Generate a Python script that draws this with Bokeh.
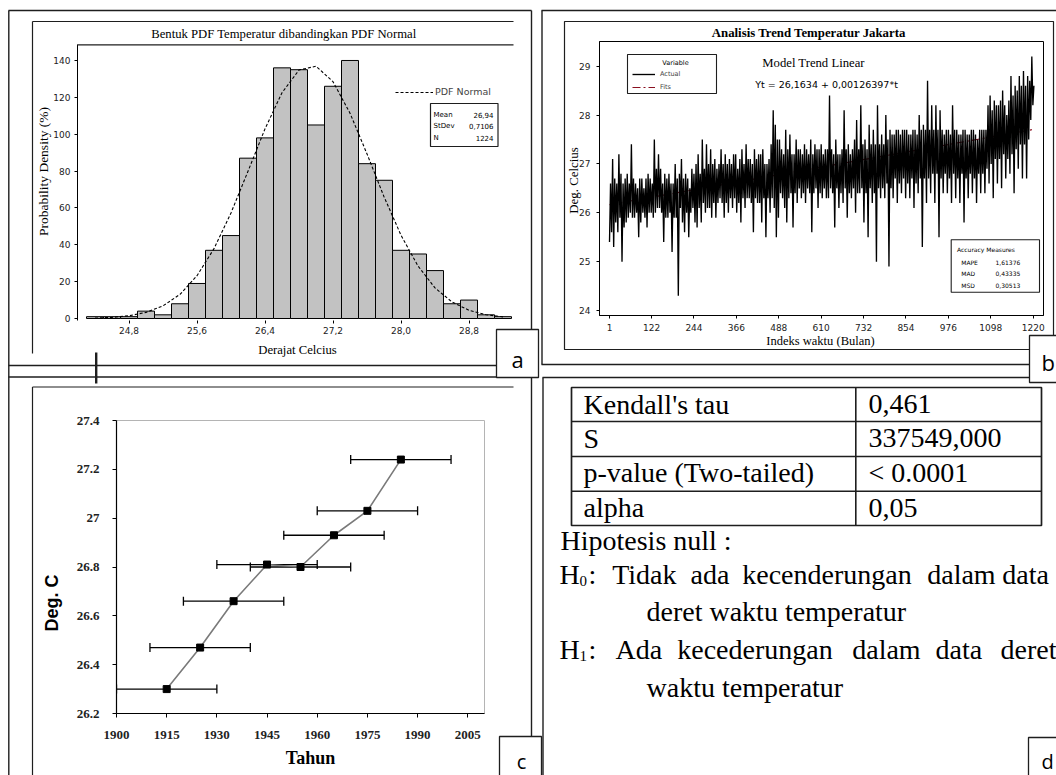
import math
from bokeh.plotting import figure
from bokeh.models import (BoxAnnotation, Label, FixedTicker, Range1d, ColumnDataSource,
                          Whisker, TeeHead, Legend, LegendItem)
from bokeh.layouts import row, column
from bokeh.embed import file_html
from bokeh.resources import INLINE

# ---------------- data ----------------
# (a) histogram of monthly temperature
hist_centers = [24.4, 24.6, 24.8, 25.0, 25.2, 25.4, 25.6, 25.8, 26.0, 26.2, 26.4, 26.6,
                26.8, 27.0, 27.2, 27.4, 27.6, 27.8, 28.0, 28.2, 28.4, 28.6, 28.8, 29.0, 29.2]
hist_counts = [1, 1, 1, 4, 2, 8, 19, 37, 45, 87, 98, 136, 135, 105, 126, 140, 84, 75,
               37, 35, 26, 8, 10, 2, 1]
pdf_x = [24.4, 24.6, 24.8, 25.0, 25.2, 25.4, 25.6, 25.8, 26.0, 26.2, 26.4, 26.6,
         26.8, 27.0, 27.2, 27.4, 27.6, 27.8, 28.0, 28.2, 28.4, 28.6, 28.8, 29.0, 29.2]
pdf_y = [0.23, 0.61, 1.47, 3.31, 6.86, 13.1, 23.2, 37.9, 57.3, 79.9, 102.9, 122.5,
         134.8, 136.9, 128.5, 111.4, 89.3, 66.1, 45.2, 28.5, 16.6, 8.97, 4.47, 2.06, 0.87]
hist_ticks = [24.8, 25.6, 26.4, 27.2, 28.0, 28.8]
hist_tick_labels = ["24,8", "25,6", "26,4", "27,2", "28,0", "28,8"]
hist_y_ticks = [0, 20, 40, 60, 80, 100, 120, 140]
stats_names = ["Mean", "StDev", "N"]
stats_values = ["26,94", "0,7106", "1224"]

# (b) monthly series: lowest / highest monthly value read in each half-year window
halfyear_start = list(range(1, 1225, 6))
halfyear_min = [
    25.4, 25.6, 25.3, 25.8, 25.6, 25.9, 25.0, 25.7, 25.8, 25.9, 26.0, 25.9,
    25.9, 26.0, 25.5, 25.8, 26.0, 25.9, 25.7, 26.0, 26.0, 25.9, 26.0, 26.1,
    26.1, 26.0, 25.4, 25.9, 25.9, 26.0, 25.2, 25.9, 25.9, 24.3, 26.1, 25.8,
    25.6, 26.0, 25.5, 26.0, 26.1, 25.8, 25.7, 26.1, 25.8, 26.2, 26.0, 26.1,
    26.1, 25.9, 26.2, 25.9, 26.2, 26.3, 26.2, 25.9, 26.2, 26.0, 26.3, 26.1,
    26.3, 26.0, 26.2, 25.8, 26.3, 26.1, 26.3, 26.3, 26.2, 25.6, 26.3, 26.2,
    26.2, 25.8, 26.3, 25.5, 26.3, 26.0, 26.3, 26.1, 25.5, 25.9, 26.4, 26.3,
    26.1, 25.8, 26.3, 26.4, 25.7, 26.4, 26.2, 26.5, 26.3, 26.4, 26.2, 26.5,
    26.4, 25.6, 26.4, 26.5, 26.1, 26.4, 26.3, 26.5, 26.3, 26.3, 26.5, 26.4,
    25.7, 26.5, 26.1, 26.4, 26.2, 26.5, 25.9, 26.4, 26.3, 26.5, 26.0, 26.4,
    26.4, 26.5, 25.8, 26.4, 25.5, 26.5, 26.2, 26.4, 25.0, 26.5, 26.3, 26.5,
    26.3, 26.6, 24.9, 26.5, 26.3, 26.7, 26.2, 26.6, 26.4, 26.7, 26.3, 26.6,
    26.3, 26.7, 26.1, 26.6, 26.4, 26.7, 25.3, 26.7, 26.2, 26.7, 26.4, 26.8,
    26.2, 26.8, 25.5, 26.7, 26.4, 26.8, 26.4, 26.7, 26.2, 26.8, 26.3, 26.7,
    26.2, 26.8, 25.8, 26.7, 26.3, 26.8, 26.4, 26.7, 26.2, 26.8, 26.4, 26.8,
    26.4, 26.9, 26.6, 27.0, 26.3, 27.1, 26.6, 27.1, 26.5, 27.2, 26.7, 27.1,
    26.8, 27.2, 26.4, 27.3, 26.9, 27.4, 26.7, 27.4, 26.7, 27.5, 27.9, 28.2,
]
halfyear_max = [
    26.6, 27.1, 26.7, 26.6, 27.2, 26.8, 26.6, 26.7, 26.8, 26.6, 27.4, 26.7,
    26.6, 26.5, 26.7, 26.7, 26.5, 26.7, 26.8, 26.7, 26.6, 27.5, 26.9, 27.2,
    26.9, 26.6, 26.8, 26.7, 26.8, 26.6, 26.6, 27.0, 26.7, 26.8, 27.1, 26.7,
    26.8, 26.7, 26.5, 26.9, 26.8, 27.0, 27.2, 26.8, 27.5, 26.9, 27.4, 27.0,
    27.3, 27.0, 27.1, 26.9, 27.0, 27.3, 27.0, 27.2, 27.0, 27.1, 27.0, 27.2,
    27.2, 26.9, 27.1, 27.3, 27.0, 27.4, 27.1, 27.1, 27.0, 27.3, 27.1, 27.2,
    27.2, 27.3, 27.0, 27.0, 27.1, 27.4, 28.1, 27.8, 27.5, 27.5, 27.3, 27.2,
    27.7, 27.3, 27.6, 27.2, 27.2, 27.5, 27.3, 27.3, 27.2, 27.4, 27.3, 27.2,
    27.5, 27.2, 27.4, 27.3, 27.3, 27.4, 27.2, 27.3, 27.3, 28.4, 27.3, 27.2,
    27.5, 27.2, 27.2, 27.3, 28.1, 27.3, 27.4, 27.2, 27.3, 27.5, 27.9, 27.3,
    28.2, 27.4, 27.5, 27.3, 27.8, 27.4, 27.7, 27.4, 28.2, 27.4, 27.6, 27.4,
    28.0, 27.5, 27.7, 27.6, 27.6, 27.7, 27.7, 27.6, 27.7, 27.7, 27.7, 27.6,
    27.6, 27.7, 27.7, 27.6, 28.0, 27.7, 27.8, 27.7, 28.7, 27.7, 28.2, 27.7,
    28.2, 27.7, 28.1, 27.7, 27.6, 27.7, 27.7, 27.6, 28.2, 27.7, 27.7, 27.6,
    27.6, 27.7, 27.7, 27.6, 27.6, 27.7, 27.7, 27.6, 27.5, 27.7, 27.7, 27.7,
    27.7, 28.2, 28.4, 28.1, 28.3, 28.2, 28.2, 28.3, 28.5, 28.2, 28.0, 28.3,
    28.8, 28.4, 28.6, 28.5, 28.8, 28.6, 28.9, 28.6, 28.8, 28.7, 29.2, 28.6,
]
fit_t = [1, 1224]
fit_temp = [26.165, 27.71]
trend_x_ticks = [1, 122, 244, 366, 488, 610, 732, 854, 976, 1098, 1220]
trend_y_ticks = [24, 25, 26, 27, 28, 29]
accuracy_names = ["MAPE", "MAD", "MSD"]
accuracy_values = ["1,61376", "0,43335", "0,30513"]

# (c) decadal means with 30-year windows
decade_mid = [1915, 1925, 1935, 1945, 1955, 1965, 1975, 1985]
decade_temp = [26.30, 26.47, 26.66, 26.81, 26.80, 26.93, 27.03, 27.24]
window_start = [1900, 1910, 1920, 1930, 1940, 1950, 1960, 1970]
window_end = [1930, 1940, 1950, 1960, 1970, 1980, 1990, 2000]
year_ticks = [1900, 1915, 1930, 1945, 1960, 1975, 1990, 2005]
deg_ticks = [26.2, 26.4, 26.6, 26.8, 27.0, 27.2, 27.4]
deg_tick_labels = ["26.2", "26.4", "26.6", "26.8", "27", "27.2", "27.4"]

# (d) Mann-Kendall table
table_left = ["Kendall's tau", "S", "p-value (Two-tailed)", "alpha"]
table_right = ["0,461", "337549,000", "< 0.0001", "0,05"]

# ---------------- helpers ----------------
SERIF = "Liberation Serif"
SANS = "DejaVu Sans"
ARIAL = "Liberation Sans"
TAGF = "Open Sans"
LC = "#1e1e1e"
W, H = 1056, 775
MID = {SERIF: 0.34, TAGF: 0.39, SANS: 0.38, ARIAL: 0.36}


class Ann:
    """annotations placed with page-pixel coordinates (top-left origin)"""

    def __init__(self, p, ox, oy, fl, fb):
        self.p, self.ox, self.oy, self.fl, self.fb = p, ox, oy, fl, fb

    def sx(self, x):
        return x - self.ox - self.fl

    def sy(self, y):
        return self.fb - (y - self.oy)

    def box(self, x0, y0, x1, y1, fill=None, line=None, lw=1.0):
        b = BoxAnnotation(left=self.sx(x0), right=self.sx(x1),
                          top=self.sy(y0), bottom=self.sy(y1),
                          left_units="screen", right_units="screen",
                          top_units="screen", bottom_units="screen",
                          fill_color=fill if fill else "white",
                          fill_alpha=1.0 if fill else 0.0,
                          line_color=line if line else "white",
                          line_alpha=1.0 if line else 0.0,
                          line_width=lw, line_dash="solid")
        self.p.add_layout(b)

    def hline(self, x0, x1, y, lw=1.4, color=LC):
        self.box(x0, y - lw / 2, x1, y + lw / 2, fill=color)

    def vline(self, x, y0, y1, lw=1.4, color=LC):
        self.box(x - lw / 2, y0, x + lw / 2, y1, fill=color)

    def text(self, x, y, s, font=SERIF, size=12, align="left", angle=0.0,
             style="normal", color="black"):
        self.p.add_layout(Label(x=self.sx(x), y=self.sy(y), x_units="screen", y_units="screen",
                                text=s, text_font=font, text_font_size=f"{size}px",
                                text_align=align, text_baseline="middle", angle=angle,
                                text_font_style=style, text_color=color))

    def btext(self, x, ybase, s, font=SERIF, size=12, align="left", style="normal"):
        """text positioned by its baseline"""
        self.text(x, ybase - MID[font] * size, s, font, size, align, style=style)


def base_fig(w, h, xr, yr, fl, ft, fr, fb):
    p = figure(width=w, height=h, x_range=xr, y_range=yr, output_backend="svg",
               toolbar_location=None, title=None,
               min_border_left=fl, min_border_right=w - fr,
               min_border_top=ft, min_border_bottom=h - fb)
    p.grid.visible = False
    p.background_fill_color = "white"
    p.border_fill_color = "white"
    return p


# ---------------- panel a (page x 0..536, y 0..371) ----------------
WA, HA = 536, 371
A_fl, A_ft, A_fr, A_fb = 77, 44, 513, 320
pa = base_fig(WA, HA, Range1d(24.194, 29.3235), Range1d(-1.085, 148.67), A_fl, A_ft, A_fr, A_fb)
pa.outline_line_color = None
pa.vbar(x=hist_centers, width=0.2, top=hist_counts, bottom=0, fill_color="#c2c2c2",
        line_color="black", line_width=1)
curve = pa.line(pdf_x, pdf_y, line_color="black", line_dash="3 2", line_width=1.1)
pa.xaxis.ticker = FixedTicker(ticks=hist_ticks)
pa.xaxis.major_label_overrides = {t: l for t, l in zip(hist_ticks, hist_tick_labels)}
pa.yaxis.ticker = FixedTicker(ticks=hist_y_ticks)
for ax in (pa.xaxis, pa.yaxis):
    ax.major_label_text_font = SANS
    ax.major_label_text_font_size = "9px"
    ax.major_label_text_color = "#222222"
    ax.major_tick_out = 3
    ax.major_tick_in = 0
    ax.minor_tick_line_color = None
    ax.major_tick_line_color = "black"
pa.xaxis.axis_line_color = None
pa.xaxis.major_label_standoff = 3
pa.yaxis.major_label_standoff = 4
pa.yaxis.axis_line_color = "black"
legA = Legend(items=[LegendItem(label="PDF Normal", renderers=[curve])],
              location=(395 - A_fl, A_fb - 97.7),
              border_line_color=None, background_fill_alpha=0, padding=0, margin=0, spacing=0,
              glyph_width=38, glyph_height=12, label_height=12, label_standoff=2,
              label_text_font=SANS, label_text_font_size="9.5px")
pa.add_layout(legA)
aa = Ann(pa, 0, 0, A_fl, A_fb)
aa.box(430, 103, 497.5, 146, fill="white", line=LC, lw=1.2)
for i, (n, v) in enumerate(zip(stats_names, stats_values)):
    aa.text(433, 114 + 11.5 * i, n, SANS, 7)
    aa.text(493, 114 + 11.5 * i, v, SANS, 7, "right")

# ---------------- panel b (page x 536..1056, y 0..371) ----------------
BX = 536
WB, HB = 520, 371
B_fl, B_ft, B_fr, B_fb = 63, 41, 507, 315
pb = base_fig(WB, HB, Range1d(-27.77, 1249.6), Range1d(23.898, 29.5055), B_fl, B_ft, B_fr, B_fb)
pb.outline_line_color = "black"
pb.outline_line_width = 1
series_t, series_v = [], []
for t0, lo, hi in zip(halfyear_start, halfyear_min, halfyear_max):
    series_t += [t0, t0 + 3]
    series_v += [lo, hi]
fits = pb.line(fit_t, fit_temp, line_color="#8a1020", line_dash="8 3 2 3", line_width=1.2)
act = pb.line(series_t, series_v, line_color="black", line_width=1.35)
pb.xaxis.ticker = FixedTicker(ticks=trend_x_ticks)
pb.yaxis.ticker = FixedTicker(ticks=trend_y_ticks)
for ax in (pb.xaxis, pb.yaxis):
    ax.major_label_text_font = SANS
    ax.major_label_text_font_size = "9px"
    ax.major_label_text_color = "#222222"
    ax.major_tick_out = 3
    ax.major_tick_in = 0
    ax.minor_tick_line_color = None
    ax.axis_line_color = "black"
pb.xaxis.major_label_standoff = 5
pb.yaxis.major_label_standoff = 6
ab = Ann(pb, BX, 0, B_fl, B_fb)
ab.box(627, 54, 716, 93, fill="white", line=LC, lw=1.1)
ab.text(675, 62, "Variable", SANS, 6.5, "center")
legB = Legend(items=[LegendItem(label="Actual", renderers=[act]),
                     LegendItem(label="Fits", renderers=[fits])],
              location=(ab.sx(632), ab.sy(93)), border_line_color=None,
              background_fill_alpha=0, padding=0, margin=0, spacing=1,
              glyph_width=23, glyph_height=12, label_height=12, label_standoff=5,
              label_text_font=SANS, label_text_font_size="6.5px")
pb.add_layout(legB)
ab.text(813, 62, "Model Trend Linear", SERIF, 12.7, "center")
ab.text(826, 84, "Yt = 26,1634 + 0,00126397*t", SANS, 9.5, "center")
ab.box(950.7, 239.3, 1039, 291.7, fill="white", line=LC, lw=1.1)
ab.text(956.5, 248.5, "Accuracy  Measures", SANS, 6, "left")
for i, (n, v) in enumerate(zip(accuracy_names, accuracy_values)):
    ab.text(960.7, 261.5 + 11.5 * i, n, SANS, 6, "left")
    ab.text(995, 261.5 + 11.5 * i, v, SANS, 6, "left")

# ---------------- panel c (page x 0..536, y 371..775) ----------------
WC, HC = 536, 404
C_fl, C_ft, C_fr, C_fb = 116, 49, 484, 342
pc = base_fig(WC, HC, Range1d(1900, 2010), Range1d(26.2, 27.4), C_fl, C_ft, C_fr, C_fb)
pc.outline_line_color = "#b4b4b4"
src_c = ColumnDataSource(dict(year=decade_mid, temp=decade_temp, lo=window_start, hi=window_end))
pc.add_layout(Whisker(source=src_c, base="temp", lower="lo", upper="hi", dimension="width",
                      line_color="black", line_width=1.3,
                      lower_head=TeeHead(size=9, line_color="black", line_width=1.3),
                      upper_head=TeeHead(size=9, line_color="black", line_width=1.3)))
pc.line("year", "temp", source=src_c, line_color="#7a7a7a", line_width=1.6)
pc.scatter("year", "temp", source=src_c, marker="square", size=7, color="black")
pc.xaxis.ticker = FixedTicker(ticks=year_ticks)
pc.yaxis.ticker = FixedTicker(ticks=deg_ticks)
pc.yaxis.major_label_overrides = {t: l for t, l in zip(deg_ticks, deg_tick_labels)}
for ax in (pc.xaxis, pc.yaxis):
    ax.major_label_text_font = SERIF
    ax.major_label_text_font_style = "bold"
    ax.major_label_text_font_size = "13px"
    ax.major_label_text_color = "#222222"
    ax.major_tick_out = 4
    ax.major_tick_in = 0
    ax.minor_tick_line_color = None
    ax.axis_line_color = "black"
    ax.axis_line_width = 1.2
pc.xaxis.major_label_standoff = 13
pc.yaxis.major_label_standoff = 13

# ---------------- decoration layer (whole page, on top) ----------------
deco = figure(width=W, height=H, x_range=Range1d(0, W), y_range=Range1d(0, H),
              output_backend="svg", toolbar_location=None, title=None,
              x_axis_location=None, y_axis_location=None,
              min_border_left=0, min_border_right=0, min_border_top=0, min_border_bottom=0)
deco.grid.visible = False
deco.outline_line_color = None
deco.background_fill_alpha = 0
deco.border_fill_alpha = 0
d = Ann(deco, 0, 0, 0, H)

# document cell frames
d.vline(8.3, 10, 775)
d.hline(8, 531, 10)
d.vline(531, 10, 775)
d.hline(8, 531, 365)
d.hline(8, 531, 376.5)
d.vline(541.5, 10, 364)
d.hline(541, 1056, 10)
d.hline(541, 1056, 364)
d.vline(542.5, 377, 775)
d.hline(542, 1056, 377)
# graph borders
d.vline(32, 21, 353, 1.2)
d.hline(32, 513, 21, 1.2)
d.hline(77, 513, 44.3, 1.2)
d.box(564, 21, 1053, 349, line=LC, lw=1.2)
d.hline(32, 513, 386.5, 1.2)
d.vline(32, 386.5, 775, 1.2)
d.vline(95.7, 352, 383, 2.4)

# panel a texts
d.text(283.3, 33.3, "Bentuk PDF Temperatur dibandingkan PDF Normal", SERIF, 12.7, "center")
d.text(42.5, 171, "Probability Density (%)", SERIF, 13.5, "center", angle=math.pi / 2)
d.text(297, 349, "Derajat Celcius", SERIF, 12.7, "center")
# panel b texts
d.text(810, 32.3, "Analisis Trend Temperatur  Jakarta", SERIF, 12.8, "center", style="bold")
d.text(573, 180, "Deg. Celcius", SERIF, 12.9, "center", angle=math.pi / 2)
d.text(820, 340.7, "Indeks waktu (Bulan)", SERIF, 12.5, "center")
# panel c texts
d.text(51, 602.5, "Deg. C", ARIAL, 18, "center", angle=math.pi / 2, style="bold")
d.text(310, 757, "Tahun", SERIF, 18, "center", style="bold")

# panel d table
t_left, t_right, t_mid = 571, 1041, 855.3
row_edges = [387, 421, 456, 490.7, 525]
baselines = [413.3, 447.3, 482, 516.7]
d.box(t_left, row_edges[0], t_right, row_edges[-1], line=LC, lw=1.7)
for ye in row_edges[1:-1]:
    d.hline(t_left, t_right, ye, 1.6)
d.vline(t_mid, row_edges[0], row_edges[-1], 1.6)
for i, (l, r) in enumerate(zip(table_left, table_right)):
    d.btext(583, baselines[i], l, SERIF, 28)
    d.btext(868, baselines[i], r, SERIF, 28)
d.btext(560, 550, "Hipotesis null :", SERIF, 28)
y0 = 583.3
d.btext(559, y0, "H", SERIF, 28)
d.btext(579, y0 + 2.5, "0", SERIF, 15)
d.btext(588, y0, ":", SERIF, 28)
for wx, w in [(611.7, "Tidak"), (690, "ada"), (741.7, "kecenderungan"), (926.7, "dalam"), (1001.7, "data")]:
    d.btext(wx, y0, w, SERIF, 28)
d.btext(646, 620.7, "deret waktu temperatur", SERIF, 28)
y1 = 658.3
d.btext(559, y1, "H", SERIF, 28)
d.btext(579, y1 + 2.5, "1", SERIF, 15)
d.btext(588, y1, ":", SERIF, 28)
for wx, w in [(615, "Ada"), (676.7, "kecederungan"), (851.7, "dalam"), (935, "data"), (1000, "deret")]:
    d.btext(wx, y1, w, SERIF, 28)
d.btext(646, 696.7, "waktu temperatur", SERIF, 28)

# panel tags
d.box(496, 329, 538, 377, fill="white", line=LC, lw=1.3)
d.btext(517, 367, "a", TAGF, 22, "center")
d.box(1029, 335, 1062, 382, fill="white", line=LC, lw=1.3)
d.btext(1041, 370, "b", TAGF, 22, "left")
d.box(499, 736, 541, 780, fill="white", line=LC, lw=1.3)
d.btext(521, 768.5, "c", TAGF, 20, "center")
d.box(1028, 737, 1062, 780, fill="white", line=LC, lw=1.3)
d.btext(1041, 768.5, "d", TAGF, 20, "left")

# ---------------- layout: overlapping placement ----------------
ra = row(pa)
rb = row(pb)
rb.styles = {"margin-top": f"-{HA}px", "margin-left": f"{BX}px"}
rc = row(pc)
rd = row(deco)
rd.styles = {"margin-top": f"-{H}px"}
layout = column(ra, rb, rc, rd, spacing=0)
open("out.html", "w").write(file_html(layout, INLINE))
